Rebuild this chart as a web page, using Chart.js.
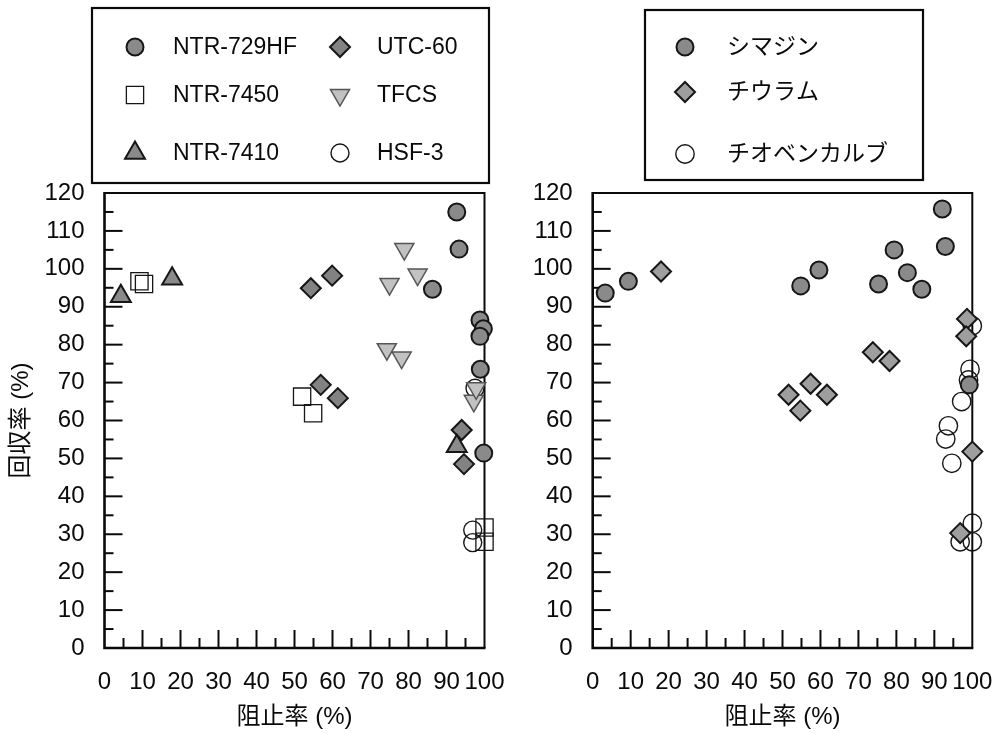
<!DOCTYPE html>
<html>
<head>
<meta charset="utf-8">
<script src="https://cdn.jsdelivr.net/npm/chart.js@4.4.1/dist/chart.umd.min.js"></script>
<style>
  html, body { margin: 0; padding: 0; background: #fff; }
  #wrap { position: relative; width: 1002px; height: 733px; overflow: hidden; }
  canvas { position: absolute; top: 0; }
  #left { left: 0; }
  #right { left: 530px; }
</style>
</head>
<body>
<div id="wrap">
  <canvas id="left" width="530" height="733"></canvas>
  <canvas id="right" width="472" height="733"></canvas>
</div>
<script>
// 左図: 膜ごとの阻止率と回収率
const ntr729hfX = [92.7, 93.3, 86.3, 98.8, 99.7, 98.8, 98.9, 99.8];
const ntr729hfY = [115.0, 105.2, 94.6, 86.5, 84.2, 82.2, 73.5, 51.4];
const ntr7450X = [9.2, 10.4, 52.0, 54.9, 100, 100];
const ntr7450Y = [96.7, 96.0, 66.3, 61.9, 31.8, 28.0];
const ntr7410X = [4.3, 17.8, 92.7];
const ntr7410Y = [92.8, 97.4, 53.2];
const utc60X = [54.3, 59.9, 56.9, 61.4, 94.0, 94.6];
const utc60Y = [94.9, 98.2, 69.4, 65.9, 57.5, 48.5];
const tfcsX = [78.9, 75.0, 82.4, 74.3, 78.2, 97.2, 97.8];
const tfcsY = [105.2, 96.0, 98.5, 78.8, 76.6, 65.2, 68.5];
const hsf3X = [97.5, 96.9, 96.9];
const hsf3Y = [68.5, 31.1, 27.8];

// 右図: 農薬ごとの阻止率と回収率
const simazineX = [3.3, 9.4, 54.8, 59.6, 75.3, 79.4, 82.9, 86.7, 92.1, 92.9, 99.2];
const simazineY = [93.6, 96.7, 95.5, 99.7, 96.0, 105.0, 99.0, 94.6, 115.8, 105.9, 69.4];
const thiuramX = [18.0, 51.6, 54.7, 57.4, 61.7, 73.8, 78.2, 98.6, 98.4, 100, 96.8];
const thiuramY = [99.3, 66.8, 62.6, 69.7, 66.8, 78.0, 75.7, 86.8, 82.2, 51.8, 30.3];
const thiobencarbX = [100, 99.4, 99.0, 97.2, 93.7, 93.0, 94.6, 100, 100, 96.8];
const thiobencarbY = [85.0, 73.5, 70.7, 65.0, 58.6, 55.1, 48.7, 32.9, 28.0, 28.0];

const xTitle = '阻止率 (%)';
const yTitle = '回収率 (%)';

const FONT = "'Liberation Sans', Arial, 'Noto Sans CJK JP', sans-serif";
const INK = '#0a0a0a';

function pts(xs, ys) {
  return xs.map((x, i) => ({ x: x, y: ys[i] }));
}

function serie(label, xs, ys, style, radius, fill, stroke, bw, rot) {
  return {
    label: label,
    data: pts(xs, ys),
    pointStyle: style,
    pointRadius: radius,
    pointRotation: rot || 0,
    backgroundColor: fill,
    borderColor: stroke,
    borderWidth: bw,
    clip: false
  };
}

// 凡例の配置 (canvas 座標)
const legendLayouts = {
  left: {
    box: [92, 8, 397, 175],
    items: [
      { ds: 0, mx: 135, my: 47, tx: 173 },
      { ds: 1, mx: 135, my: 95, tx: 173 },
      { ds: 2, mx: 135, my: 153, tx: 173 },
      { ds: 3, mx: 340, my: 47, tx: 377 },
      { ds: 4, mx: 340, my: 95, tx: 377 },
      { ds: 5, mx: 340, my: 153, tx: 377 }
    ],
    font: '23px ' + FONT
  },
  right: {
    box: [645 - 530, 10, 278, 170],
    items: [
      { ds: 0, mx: 685 - 530, my: 47, tx: 727 - 530 },
      { ds: 1, mx: 685 - 530, my: 92, tx: 727 - 530 },
      { ds: 2, mx: 685 - 530, my: 154, tx: 727 - 530 }
    ],
    font: '23px ' + FONT
  }
};

const boxLegend = {
  id: 'boxLegend',
  afterDraw(chart) {
    const lay = legendLayouts[chart.canvas.id];
    if (!lay) return;
    const ctx = chart.ctx;
    ctx.save();
    ctx.lineWidth = 2.2;
    ctx.strokeStyle = INK;
    ctx.strokeRect(lay.box[0], lay.box[1], lay.box[2], lay.box[3]);
    lay.items.forEach(it => {
      const ds = chart.data.datasets[it.ds];
      ctx.fillStyle = ds.backgroundColor;
      ctx.strokeStyle = ds.borderColor;
      ctx.lineWidth = ds.borderWidth;
      Chart.helpers.drawPoint(ctx, {
        pointStyle: ds.pointStyle,
        rotation: ds.pointRotation,
        radius: ds.pointRadius,
        borderWidth: ds.borderWidth
      }, it.mx, it.my);
      ctx.fillStyle = INK;
      ctx.font = lay.font;
      ctx.textAlign = 'left';
      ctx.textBaseline = 'middle';
      ctx.fillText(ds.label, it.tx, it.my + 1);
    });
    ctx.restore();
  }
};

// 枠と内向きの目盛り
const frameTicks = {
  id: 'frameTicks',
  beforeDatasetsDraw(chart) {
    const { ctx, chartArea: a, scales } = chart;
    ctx.save();
    ctx.strokeStyle = INK;
    ctx.lineWidth = 2;
    for (let v = 5; v < 100; v += 5) {
      const px = scales.x.getPixelForValue(v);
      const len = v % 10 === 0 ? 18 : 10;
      ctx.beginPath();
      ctx.moveTo(px, a.bottom);
      ctx.lineTo(px, a.bottom - len);
      ctx.stroke();
    }
    for (let v = 5; v < 120; v += 5) {
      const py = scales.y.getPixelForValue(v);
      const len = v % 10 === 0 ? 18 : 9;
      ctx.beginPath();
      ctx.moveTo(a.left, py);
      ctx.lineTo(a.left + len, py);
      ctx.stroke();
    }
    ctx.lineWidth = 2;
    ctx.beginPath();
    ctx.moveTo(a.left, a.top);
    ctx.lineTo(a.right, a.top);
    ctx.lineTo(a.right, a.bottom);
    ctx.stroke();
    ctx.lineWidth = 2.6;
    ctx.beginPath();
    ctx.moveTo(a.left, a.top - 1);
    ctx.lineTo(a.left, a.bottom);
    ctx.lineTo(a.right + 1, a.bottom);
    ctx.stroke();
    ctx.restore();
  }
};

function makeOptions(yWidth, padRight, showYTitle) {
  return {
    responsive: false,
    animation: false,
    layout: { padding: { top: 193, right: padRight, bottom: 0, left: 0 } },
    plugins: { legend: { display: false }, tooltip: { enabled: false } },
    scales: {
      x: {
        type: 'linear', min: 0, max: 100,
        grid: { display: false, drawTicks: false },
        border: { display: false },
        ticks: { stepSize: 10, autoSkip: false, maxRotation: 0, padding: 20, color: INK,
                 font: { family: FONT, size: 24 } },
        title: { display: true, text: xTitle, color: INK, font: { family: FONT, size: 24 },
                 padding: { top: 0, bottom: 1 } },
        afterFit(s) { s.height = 85; s.paddingLeft = 0; s.paddingRight = 0; }
      },
      y: {
        type: 'linear', min: 0, max: 120,
        grid: { display: false, drawTicks: false },
        border: { display: false },
        ticks: { stepSize: 10, autoSkip: false, padding: 20, color: INK,
                 font: { family: FONT, size: 24 } },
        title: { display: showYTitle, text: yTitle, color: INK, font: { family: FONT, size: 24 },
                 padding: { top: 7, bottom: 0 } },
        afterFit(s) { s.width = yWidth; s.paddingTop = 0; s.paddingBottom = 0; }
      }
    }
  };
}

const GRAY = '#8a8a8a';
const DARK = '#161616';
const NONE = 'rgba(0,0,0,0)';

new Chart(document.getElementById('left'), {
  type: 'scatter',
  data: {
    datasets: [
      serie('NTR-729HF', ntr729hfX, ntr729hfY, 'circle', 8.5, GRAY, DARK, 2),
      serie('NTR-7450', ntr7450X, ntr7450Y, 'rect', 12.2, NONE, DARK, 1.3),
      serie('NTR-7410', ntr7410X, ntr7410Y, 'triangle', 11.5, GRAY, DARK, 2),
      serie('UTC-60', utc60X, utc60Y, 'rectRot', 10, '#828282', DARK, 2),
      serie('TFCS', tfcsX, tfcsY, 'triangle', 11, '#c2c2c2', '#555', 1.5, 180),
      serie('HSF-3', hsf3X, hsf3Y, 'circle', 9, NONE, DARK, 1.4)
    ]
  },
  options: makeOptions(104.5, 530 - 484.5, true),
  plugins: [frameTicks, boxLegend]
});

new Chart(document.getElementById('right'), {
  type: 'scatter',
  data: {
    datasets: [
      serie('シマジン', simazineX, simazineY, 'circle', 8.5, GRAY, DARK, 2),
      serie('チウラム', thiuramX, thiuramY, 'rectRot', 10, '#9e9e9e', DARK, 2),
      serie('チオベンカルブ', thiobencarbX, thiobencarbY, 'circle', 9.2, NONE, DARK, 1.4)
    ]
  },
  options: makeOptions(592.7 - 530, 1002 - 530 - (972.3 - 530), false),
  plugins: [frameTicks, boxLegend]
});
</script>
</body>
</html>
